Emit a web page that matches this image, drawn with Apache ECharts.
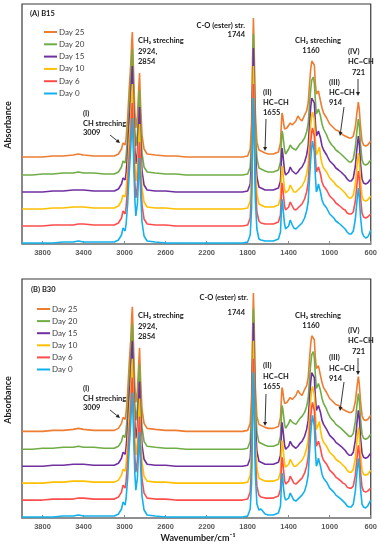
<!DOCTYPE html>
<html><head><meta charset="utf-8">
<script src="https://cdn.jsdelivr.net/npm/echarts@6/dist/echarts.min.js"></script>
<style>html,body{margin:0;padding:0;background:#fff}#c{width:380px;height:550px}</style>
</head><body><div id="c"></div>
<script>
// ---- data (absorbance, arbitrary units x100) ----
const wavenumbers = [4000,3900,3800,3700,3600,3500,3450,3400,3300,3200,
 3100,3060,3030,3015,3009,3000,2995,2985,2970,2955,
 2940,2930,2924,2915,2900,2890,2875,2862,2854,2845,
 2830,2810,2780,2700,2600,2500,2400,2300,2200,2100,
 2000,1900,1850,1800,1775,1762,1752,1744,1736,1725,
 1710,1690,1670,1655,1630,1600,1550,1500,1480,1470,
 1465,1458,1450,1440,1430,1418,1400,1385,1377,1365,
 1350,1330,1310,1290,1270,1245,1225,1210,1196,1185,
 1175,1168,1160,1150,1140,1130,1120,1110,1100,1090,
 1075,1060,1045,1030,1015,1000,980,960,940,914,
 890,870,850,830,810,790,770,750,735,721,
 712,700,685,670,650,630,615,600];
const dayNames = ['Day 25','Day 20','Day 15','Day 10','Day 6','Day 0'];
const dayOffsets = [85,68,51,34,17,0];
const day25 = [2,2,2,3,3,4,5,4,3,3, 3,5,10,16,18,15,14,21,41,70, 94,118,127,95,47,31,43,70,86,57, 24,10,5,4,3,3,2,2,2,2, 2,2,2,3,10,36,100,141,108,46, 17,9,8,7,6,5,5,7,16,38, 46,43,36,30,28,31,33,36,36,34, 35,38,43,40,38,44,48,56,76,90, 98,100,100,94,76,65,67,68,66,58, 51,46,44,41,38,35,33,31,29,28, 26,24,23,22,21,21,23,32,46,57, 50,33,18,14,13,14,16,18];
const day20 = [1,1,2,2,3,3,4,3,3,2, 2,4,9,15,17,14,13,20,40,70, 94,118,127,95,46,30,42,70,86,56, 23,9,4,3,2,2,1,1,1,1, 1,1,1,2,9,35,101,142,108,46, 18,8,7,6,5,4,4,6,14,36, 45,42,35,26,22,24,27,31,32,28, 26,26,29,32,34,38,44,52,73,87, 96,98,99,93,76,62,64,67,68,60, 52,47,44,41,37,34,31,29,26,24, 22,20,18,16,14,14,17,29,45,57, 51,32,16,12,11,12,14,16];
const day15 = [1,1,1,2,2,3,3,3,2,2, 2,4,9,15,17,14,13,20,40,70, 94,118,127,95,45,29,41,70,86,55, 22,8,3,2,2,1,1,1,1,1, 1,1,1,2,9,35,101,145,108,44, 16,6,5,4,3,3,3,5,12,35, 45,40,32,22,18,19,21,26,27,22, 20,19,21,24,26,31,38,47,70,86, 95,97,97,90,71,57,59,62,64,55, 47,43,41,38,35,32,30,28,25,23, 21,19,17,14,12,12,15,27,44,57, 50,30,14,10,9,10,12,14];
const day10 = [1,1,1,2,2,3,3,3,2,2, 2,4,9,15,17,14,13,20,40,70, 94,117,126,94,45,29,41,70,86,55, 22,8,3,2,2,1,1,1,1,1, 1,1,1,2,9,35,100,144,107,44, 16,6,5,4,3,3,3,5,12,35, 44,40,31,21,17,18,20,25,26,21, 18,18,20,22,24,29,36,45,69,85, 95,98,97,90,70,55,57,60,63,54, 46,42,40,38,35,32,30,28,25,23, 21,19,17,14,12,12,15,26,43,57, 50,30,14,10,9,10,12,14];
const day6 = [1,1,1,2,2,2,3,3,2,2, 2,4,9,16,18,14,13,20,40,70, 94,117,124,94,45,29,41,70,85,55, 22,8,3,2,2,1,1,1,1,1, 1,1,1,2,9,35,100,143,107,44, 15,6,4,4,3,3,3,5,12,36, 44,40,31,21,17,18,20,25,26,21, 18,17,19,21,23,28,35,44,69,85, 95,99,101,91,70,55,57,60,62,53, 45,41,39,37,34,31,29,27,24,22, 20,18,17,14,13,13,15,26,42,56, 49,30,14,10,9,10,12,13];
const day0A = [1,1,1,1,2,2,3,2,2,2, 2,4,9,16,18,14,13,20,40,70, 95,118,126,95,45,28,40,70,86,55, 22,8,3,2,1,1,1,1,1,1, 1,1,1,2,9,35,102,146,108,44, 15,5,4,3,3,3,3,5,12,35, 45,40,30,20,15,16,18,24,25,19, 16,15,17,19,21,26,33,42,67,85, 97,103,105,92,68,52,55,60,62,52, 44,40,38,36,33,30,28,26,23,21, 19,17,15,12,10,10,13,25,42,56, 48,28,12,8,6,7,10,14];
const day0B = [1,1,1,1,2,2,3,2,2,2, 2,4,9,16,18,14,13,20,40,70, 95,118,126,95,45,28,40,70,86,55, 22,8,3,2,1,1,1,1,1,1, 1,1,1,2,9,35,102,146,108,44, 14,8,9,8,4,3,3,5,12,35, 45,40,30,21,18,18,20,25,26,21, 18,17,19,21,23,27,34,43,67,85, 97,103,105,92,68,52,55,60,62,52, 44,40,38,36,33,30,28,26,23,21, 19,17,15,12,11,11,14,27,45,60, 51,30,14,11,10,12,15,18];
const panelA = [day25, day20, day15, day10, day6, day0A];
const panelB = [day25, day20, day15, day10, day6, day0B];
const xTickLabels = [3800,3400,3000,2600,2200,1800,1400,1000,600];
const panelTitles = ['(A) B15','(B) B30'];

// ---- styles ----
const colors = ['#ED7D31','#70AD47','#7030A0','#FFC000','#FF4D4D','#12B1EE'];
const annFont = 'bold 7.5px Lato, "Open Sans", sans-serif';

function mkSeries(panel, arrays){
  return dayNames.map((n,i)=>({
    type:'line', name:n, xAxisIndex:panel, yAxisIndex:panel,
    data: wavenumbers.map((w,j)=>[w, arrays[i][j] + dayOffsets[i]]),
    symbol:'none', showSymbol:false, silent:true, clip:true,
    lineStyle:{width:1.6,color:colors[i]}, itemStyle:{color:colors[i]}
  }));
}
function xAx(idx){
  return {type:'value', gridIndex:idx, min:600, max:4000, interval:400, inverse:true,
    axisLine:{show:true,lineStyle:{color:'#8a8a8a',width:1.5}},
    axisTick:{show:true,inside:true,length:3,lineStyle:{color:'#8a8a8a'}},
    splitLine:{show:false},
    axisLabel:{margin:5,fontSize:7.5,fontWeight:'bold',color:'#595959',fontFamily:'"Liberation Sans", Arial, sans-serif',
      formatter:v=> xTickLabels.indexOf(v)>=0 ? String(v) : ''}};
}
function yAx(idx){
  return {type:'value', gridIndex:idx, min:0, max:240, show:false, splitLine:{show:false}};
}
function txt(x,y,t,align,font){
  return {type:'text', z:100, style:{x:x,y:y,text:t,font:font||annFont,fill:'#1a1a1a',align:align||'left',verticalAlign:'middle'}};
}
function arrow(x1,y1,x2,y2){
  const a=Math.atan2(y2-y1,x2-x1), L=4, W=2;
  const bx=x2-L*Math.cos(a), by=y2-L*Math.sin(a);
  const px=-Math.sin(a)*W, py=Math.cos(a)*W;
  return [
    {type:'line',z:100,shape:{x1:x1,y1:y1,x2:bx,y2:by},style:{stroke:'#222',lineWidth:0.9}},
    {type:'polygon',z:100,shape:{points:[[x2,y2],[bx+px,by+py],[bx-px,by-py]]},style:{fill:'#222'}}
  ];
}
function annotations(dy, b){
  const g=[];
  g.push(txt(b?31:30, b?290:14, panelTitles[b?1:0]));
  g.push(txt(83, 114+dy, '(I)'));
  g.push(txt(83, 124+dy, 'CH streching'));
  g.push(txt(83, 133+dy, '3009'));
  g.push(txt(138, 41+dy, 'CH₂ streching'));
  g.push(txt(138, 52+dy, '2924,'));
  g.push(txt(138, 62+dy, '2854'));
  if(!b){
    g.push(txt(245, 26, 'C-O (ester) str.', 'right'));
    g.push(txt(245, 35, '1744', 'right'));
  } else {
    g.push(txt(248, 298, 'C-O (ester) str.', 'right'));
    g.push(txt(245, 313, '1744', 'right'));
  }
  g.push(txt(318, 41+dy, 'CH₂ streching', 'center'));
  g.push(txt(311, 51+dy, '1160', 'center'));
  const d4 = b?4:0;
  g.push(txt(263, 93+dy+(b?-2:0), '(II)'));
  g.push(txt(263, 103+dy+(b?-1:0), 'HC=CH'));
  g.push(txt(263, 113+dy+(b?-1:0), '1655'));
  g.push(txt(329, 83+dy, '(III)'));
  g.push(txt(329, 93+dy+(b?1:0), 'HC=CH'));
  g.push(txt(329, 103+dy+(b?1:0), '914'));
  g.push(txt(348, 52+dy+d4, '(IV)'));
  g.push(txt(348, 62+dy+d4, 'HC=CH'));
  g.push(txt(352, 73+dy+d4, '721'));
  g.push(...arrow(110,135+dy,120,143+dy));
  g.push(...arrow(266,119+dy,265,151+dy));
  g.push(...arrow(344,107+dy,340,136+dy));
  g.push(...arrow(358,79+dy+d4,358,96+dy+d4));
  g.push({type:'text',z:100,rotation:Math.PI/2,x:8,y:125+dy,
    style:{text:'Absorbance',font:'bold 9px Lato, "Open Sans", sans-serif',fill:'#1a1a1a',align:'center',verticalAlign:'middle'}});
  return g;
}

const chart = echarts.init(document.getElementById('c'), null, {renderer:'canvas'});
chart.setOption({
  animation:false,
  backgroundColor:'#fff',
  grid:[
    {left:22, top:4, width:351, height:240, show:true, borderColor:'#3a3a3a', borderWidth:1.2, containLabel:false},
    {left:22, top:279, width:351, height:239, show:true, borderColor:'#3a3a3a', borderWidth:1.2, containLabel:false}
  ],
  xAxis:[xAx(0), xAx(1)],
  yAxis:[yAx(0), yAx(1)],
  legend:[
    {orient:'vertical', left:39, top:21, itemWidth:13, itemHeight:2, icon:'rect', itemGap:0.3,
     data:dayNames, selectedMode:false,
     textStyle:{fontSize:8, lineHeight:12, color:'#404040', fontFamily:'Lato, "Open Sans", sans-serif', padding:[0,0,0,-3]}},
    {orient:'vertical', left:32, top:298, itemWidth:13, itemHeight:2, icon:'rect', itemGap:0.1,
     data:dayNames, selectedMode:false,
     textStyle:{fontSize:8, lineHeight:12, color:'#404040', fontFamily:'Lato, "Open Sans", sans-serif', padding:[0,0,0,-3]}}
  ],
  series: mkSeries(0, panelA).concat(mkSeries(1, panelB)),
  graphic: annotations(0,false).concat(annotations(275,true)).concat([
    txt(198, 538, 'Wavenumber/cm⁻¹', 'center', 'bold 9px Lato, "Open Sans", sans-serif')
  ])
});
</script>
</body></html>
